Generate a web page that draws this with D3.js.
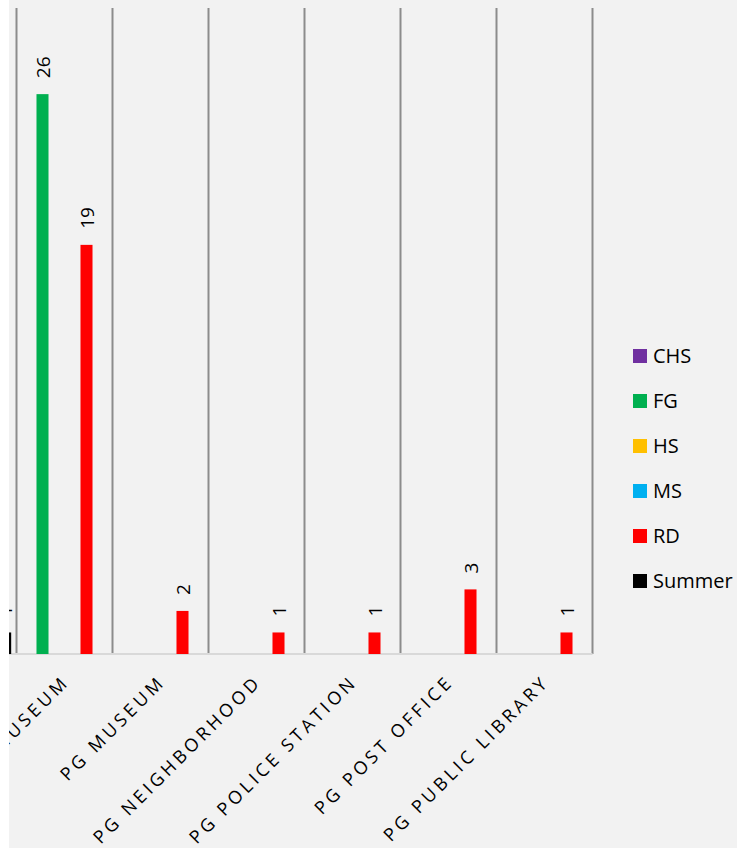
<!DOCTYPE html>
<html>
<head>
<meta charset="utf-8">
<title>Visits by site</title>
<script src="https://cdn.jsdelivr.net/npm/d3@7"></script>
<style>
  body { margin: 0; background: #fff; }
  text { font-family: "Open Sans", "DejaVu Sans", sans-serif; fill: #000; }
</style>
</head>
<body>
<script>
// categories (first one is cut off at the left edge of the picture)
var categories = ["PG LIBRARY", "PG HISTORY MUSEUM", "PG MUSEUM", "PG NEIGHBORHOOD",
                  "PG POLICE STATION", "PG POST OFFICE", "PG PUBLIC LIBRARY"];
var seriesNames = ["CHS", "FG", "HS", "MS", "RD", "Summer"];
var colours = ["#7030a0", "#00b050", "#ffc000", "#00b0f0", "#ff0000", "#000000"];

// one array per series, one value per category (null = no bar)
var CHS    = [null, null, null, null, null, null, null];
var FG     = [null, 26,   null, null, null, null, null];
var HS     = [null, null, null, null, null, null, null];
var MS     = [null, null, null, null, null, null, null];
var RD     = [null, 19,   2,    1,    1,    3,    1];
var Summer = [1,    null, null, null, null, null, null];
var seriesValues = [CHS, FG, HS, MS, RD, Summer];
var yMax = 30;

var w = 737, h = 848;

var svg = d3.select("body").append("svg")
    .attr("width", w)
    .attr("height", h);

// chart area background (picture is cropped, a white strip shows on the left)
svg.append("rect")
    .attr("x", 9).attr("y", 0)
    .attr("width", w - 9).attr("height", h)
    .attr("fill", "#f2f2f2");

svg.append("clipPath").attr("id", "crop")
  .append("rect")
    .attr("x", 9).attr("y", 0)
    .attr("width", w - 9).attr("height", h);

var g = svg.append("g").attr("clip-path", "url(#crop)");

var x = d3.scaleBand()
    .domain(categories)
    .range([-79.5, 592.5]);

var xs = d3.scaleBand()
    .domain(seriesNames)
    .range([4, x.bandwidth() - 4])
    .paddingInner(0.18)
    .paddingOuter(0.09);

var y = d3.scaleLinear()
    .domain([0, yMax])
    .range([654, 8]);

// vertical separators between categories
var bounds = categories.map(function(c) { return x(c); }).concat([x.range()[1]]);
g.selectAll("line.sep")
    .data(bounds)
    .enter()
    .append("line")
    .attr("class", "sep")
    .attr("x1", function(d) { return d; })
    .attr("x2", function(d) { return d; })
    .attr("y1", y(yMax))
    .attr("y2", y(0))
    .attr("stroke", "#8c8c8c")
    .attr("stroke-width", 2);

// baseline
g.append("line")
    .attr("x1", x.range()[0]).attr("x2", x.range()[1])
    .attr("y1", y(0)).attr("y2", y(0))
    .attr("stroke", "#d9d9d9")
    .attr("stroke-width", 2);

// flatten into bar records
var bars = [];
seriesNames.forEach(function(s, k) {
    categories.forEach(function(c, i) {
        var v = seriesValues[k][i];
        if (v != null) bars.push({cat: c, series: s, k: k, value: v});
    });
});

g.selectAll("rect.bar")
    .data(bars)
    .enter()
    .append("rect")
    .attr("class", "bar")
    .attr("x", function(d) { return x(d.cat) + xs(d.series); })
    .attr("y", function(d) { return y(d.value); })
    .attr("width", xs.bandwidth())
    .attr("height", function(d) { return y(0) - y(d.value); })
    .attr("fill", function(d) { return colours[d.k]; });

// value labels, rotated
g.selectAll("text.val")
    .data(bars)
    .enter()
    .append("text")
    .attr("class", "val")
    .attr("transform", function(d) {
        var cx = x(d.cat) + xs(d.series) + xs.bandwidth() / 2 + 7;
        return "translate(" + cx + "," + (y(d.value) - 16) + ") rotate(-90)";
    })
    .style("font-size", "19px")
    .text(function(d) { return d.value; });

// category labels
g.selectAll("text.cat")
    .data(categories)
    .enter()
    .append("text")
    .attr("class", "cat")
    .attr("text-anchor", "end")
    .attr("transform", function(d) {
        var cx = x(d) + x.bandwidth() / 2 + 6;
        return "translate(" + cx + "," + 683 + ") rotate(-45)";
    })
    .style("font-size", "18px")
    .style("letter-spacing", "3.6px")
    .text(function(d) { return d; });

// legend
var legend = svg.selectAll("g.leg")
    .data(seriesNames)
    .enter()
    .append("g")
    .attr("class", "leg")
    .attr("transform", function(d, i) { return "translate(633," + (349 + i * 45) + ")"; });

legend.append("rect")
    .attr("width", 14)
    .attr("height", 14)
    .attr("fill", function(d, i) { return colours[i]; });

legend.append("text")
    .attr("x", 20)
    .attr("y", 14)
    .style("font-size", "20px")
    .text(function(d) { return d; });
</script>
</body>
</html>
